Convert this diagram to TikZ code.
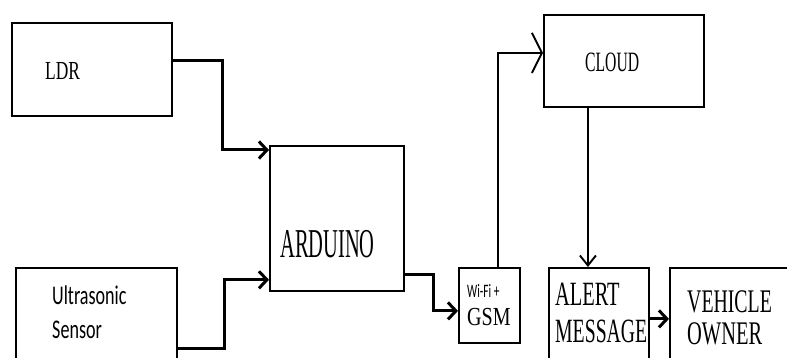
\documentclass[tikz,border=0pt]{standalone}
\usepackage{fontspec}
\usepackage{graphicx}
\usetikzlibrary{arrows.meta}
\setmainfont{Liberation Serif}
\newfontfamily\labelsans{Carlito}
\newcommand{\squash}[2]{\scalebox{#1}[1]{#2}}
\tikzset{
  block/.style={
    draw,
    rectangle,
    line width=1.8pt,
    inner sep=0pt,
    anchor=north west
  },
  caption/.style={
    inner sep=0pt,
    text=black
  },
  signal/.style={
    -{Straight Barb[length=8pt,width=17pt]},
    line width=3pt
  },
  link/.style={
    -{Straight Barb[length=10pt,width=16pt]},
    line width=1.9pt
  }
}

\begin{document}
\begin{tikzpicture}[x=1pt,y=-1pt]

\useasboundingbox (0,0) rectangle (787,358);
\clip (0,0) rectangle (787,358);

% blocks
\node[block, minimum width=160pt, minimum height=93pt] (ldr) at (11,22) {};
\node[block, minimum width=161pt, minimum height=110pt] (sensor) at (15,267) {};
\node[block, minimum width=134pt, minimum height=145pt] (arduino) at (269,145) {};
\node[block, minimum width=61pt, minimum height=75pt] (gsm) at (458,267) {};
\node[block, minimum width=160pt, minimum height=92pt] (cloud) at (543,14) {};
\node[block, minimum width=100pt, minimum height=110pt] (alert) at (548,267) {};
\node[block, minimum width=140pt, minimum height=110pt] (owner) at (669,267) {};

% texts
\node[caption, anchor=base west, font=\fontsize{26}{26}\selectfont] (ldrtext) at (45,80) {\squash{0.67}{LDR}};
\node[caption, anchor=north west, align=left, font=\labelsans\fontsize{27}{34}\selectfont] (sensortext) at (52,286)
  {\squash{0.67}{Ultrasonic}\\\squash{0.67}{Sensor}};
\node[caption, anchor=base west, font=\fontsize{41}{41}\selectfont] (arduinotext) at (280,257) {\squash{0.5}{ARDUINO}};
\node[caption, anchor=base west, font=\labelsans\fontsize{19}{19}\selectfont] (wifitext) at (467,297) {\squash{0.6}{Wi-Fi +}};
\node[caption, anchor=base west, font=\fontsize{26}{26}\selectfont] (gsmtext) at (467,325) {\squash{0.77}{GSM}};
\node[caption, anchor=base west, font=\fontsize{28}{28}\selectfont] (cloudtext) at (585,72) {\squash{0.56}{CLOUD}};
\node[caption, anchor=north west, align=left, font=\fontsize{34}{37}\selectfont] (alerttext) at (555,283)
  {\squash{0.6}{ALERT}\\\squash{0.58}{MESSAGE}};
\node[caption, anchor=north west, align=left, font=\fontsize{33}{32}\selectfont] (ownertext) at (687,290)
  {\squash{0.6}{VEHICLE}\\\squash{0.62}{OWNER}};

% connectors
\draw[signal] ([yshift=8.5pt]ldr.east) -- ++(50,0) |- ([yshift=-5pt]arduino.north west);
\draw[signal] ([yshift=-26pt]sensor.east) -- ++(47,0) |- ([yshift=12pt]arduino.south west);
\draw[signal] ([yshift=17pt]arduino.south east) -- ++(29,0) |- ([yshift=-5.5pt]gsm.west);
\draw[link, -{Straight Barb[length=10pt,width=40pt]}] ([xshift=8.5pt]gsm.north) |- ([yshift=8pt]cloud.west);
\draw[link] ([xshift=-36pt]cloud.south) -- ([xshift=-11pt]alert.north);
\draw[signal] ([yshift=4pt]alert.east) -- ([yshift=4pt]owner.west);

\end{tikzpicture}
\end{document}
